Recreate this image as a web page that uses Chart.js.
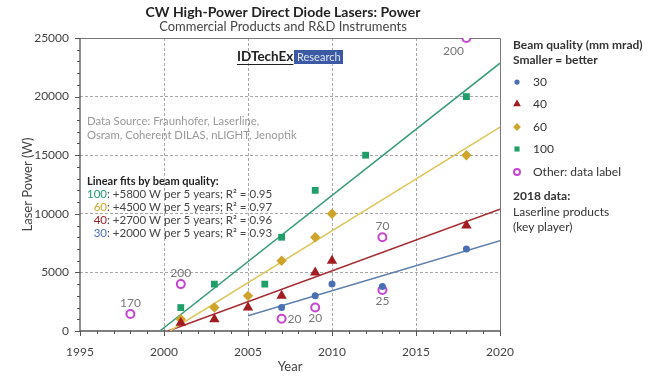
<!DOCTYPE html>
<html><head><meta charset="utf-8">
<script src="https://cdn.jsdelivr.net/npm/chart.js@4.4.1/dist/chart.umd.min.js"></script>
<style>html,body{margin:0;padding:0;background:#fff}#wrap{width:650px;height:376px;position:relative}</style>
</head><body><div id="wrap"><canvas id="c" width="650" height="376"></canvas></div>
<script>
// ---- data ----
const years30 = [2007, 2009, 2010, 2013, 2018];
const power30 = [2000, 3000, 4000, 3800, 7000];
const years40 = [2001, 2003, 2005, 2007, 2009, 2010, 2018];
const power40 = [700, 1000, 2000, 3000, 5000, 6000, 9000];
const years60 = [2001, 2003, 2005, 2007, 2009, 2010, 2018];
const power60 = [1000, 2000, 3000, 6000, 8000, 10000, 15000];
const years100 = [2001, 2003, 2006, 2007, 2009, 2012, 2018];
const power100 = [2000, 4000, 4000, 8000, 12000, 15000, 20000];
const yearsOther = [1998, 2001, 2007, 2009, 2013, 2013, 2018];
const powerOther = [1450, 4000, 1050, 2000, 8000, 3500, 25000];
const labelsOther = ['170', '200', '20', '20', '70', '25', '200'];
// linear fit end points [startYear, startPower, endYear, endPower]
const fit30 = [2005, 1300, 2020, 7700];
const fit40 = [2000.25, 0, 2020, 10400];
const fit60 = [2000.35, 0, 2020, 17400];
const fit100 = [1999.75, 0, 2020, 22850];
const xTicks = [1995, 2000, 2005, 2010, 2015, 2020];
const yTicks = [0, 5000, 10000, 15000, 20000, 25000];
const fitTexts = [
  ['100', ': +5800 W per 5 years; R² = 0.95'],
  ['60', ': +4500 W per 5 years; R² = 0.97'],
  ['40', ': +2700 W per 5 years; R² = 0.96'],
  ['30', ': +2000 W per 5 years; R² = 0.93']
];
// ---- styles ----
const labelPlacement = ['above', 'above', 'right', 'below', 'above', 'below', 'belowleft'];
const C30 = '#4a70b4', C40 = '#a11d22', C60 = '#cfa42b', C100 = '#1f9e6a', COTH = '#c545d0';
const L30 = '#5f80ad', L40 = '#a32a30', L60 = '#dcc65a', L100 = '#3a9c7d';
const FONT = 'Lato, "Open Sans", sans-serif';

function pts(xs, ys) { return xs.map((x, i) => ({x: x, y: ys[i]})); }
function fitPts(f) { return [{x: f[0], y: f[1]}, {x: f[2], y: f[3]}]; }

const scatterDs = [
  {label: '30', data: pts(years30, power30), pointStyle: 'circle', pointRadius: 3.5, backgroundColor: C30, borderColor: C30, borderWidth: 0},
  {label: '40', data: pts(years40, power40), pointStyle: 'triangle', pointRadius: 6, backgroundColor: C40, borderColor: C40, borderWidth: 0},
  {label: '60', data: pts(years60, power60), pointStyle: 'rectRot', pointRadius: 5.2, backgroundColor: C60, borderColor: C60, borderWidth: 0},
  {label: '100', data: pts(years100, power100), pointStyle: 'rect', pointRadius: 4.8, backgroundColor: C100, borderColor: C100, borderWidth: 0},
  {label: 'Other: data label', data: pts(yearsOther, powerOther), pointStyle: 'circle', pointRadius: 4, backgroundColor: '#fff', borderColor: COTH, borderWidth: 2}
];
const lineDs = [
  {label: 'fit100', data: fitPts(fit100), borderColor: L100},
  {label: 'fit60', data: fitPts(fit60), borderColor: L60},
  {label: 'fit40', data: fitPts(fit40), borderColor: L40},
  {label: 'fit30', data: fitPts(fit30), borderColor: L30}
].map(d => Object.assign(d, {type: 'line', showLine: true, pointRadius: 0, borderWidth: 1.5, fill: false, order: 10}));

scatterDs.forEach(d => { d.type = 'scatter'; d.order = 1; d.pointHoverRadius = d.pointRadius; });

const decor = {
  id: 'decor',
  beforeDatasetsDraw(chart) {
    const {ctx, chartArea: a, scales: {x, y}} = chart;
    ctx.save();
    // box top/right
    ctx.strokeStyle = '#777'; ctx.lineWidth = 1;
    ctx.beginPath(); ctx.moveTo(a.left, a.top + 0.5); ctx.lineTo(a.right + 0.5, a.top + 0.5); ctx.lineTo(a.right + 0.5, a.bottom); ctx.stroke();
    // axes
    ctx.strokeStyle = '#555'; ctx.lineWidth = 1.3;
    ctx.beginPath(); ctx.moveTo(a.left, a.top); ctx.lineTo(a.left, a.bottom); ctx.lineTo(a.right, a.bottom); ctx.stroke();
    // ticks
    ctx.lineWidth = 1;
    for (let v = 0; v <= 25000; v += 1000) {
      const py = Math.round(y.getPixelForValue(v)) + 0.5;
      const len = v % 5000 === 0 ? 5 : 3;
      ctx.beginPath(); ctx.moveTo(a.left - len, py); ctx.lineTo(a.left, py); ctx.stroke();
    }
    for (let v = 1995; v <= 2020; v += 1) {
      const px = Math.round(x.getPixelForValue(v)) + 0.5;
      const len = v % 5 === 0 ? 5 : 3;
      ctx.beginPath(); ctx.moveTo(px, a.bottom); ctx.lineTo(px, a.bottom + len); ctx.stroke();
    }
    ctx.restore();
  },
  afterDraw(chart) {
    const {ctx, chartArea: a, scales: {x, y}} = chart;
    ctx.save();
    ctx.textBaseline = 'middle';
    // titles
    ctx.textAlign = 'center'; ctx.fillStyle = '#222';
    ctx.font = 'bold 14px ' + FONT; ctx.fillText('CW High-Power Direct Diode Lasers: Power', 283, 12);
    ctx.fillStyle = '#444';
    ctx.font = '13px ' + FONT; ctx.fillText('Commercial Products and R&D Instruments', 283, 26.5);
    // axis titles
    ctx.font = '13px ' + FONT; ctx.fillStyle = '#444';
    ctx.fillText('Year', (a.left + a.right) / 2, 367);
    ctx.save(); ctx.translate(28, (a.top + a.bottom) / 2); ctx.rotate(-Math.PI / 2);
    ctx.fillText('Laser Power (W)', 0, 0); ctx.restore();
    // logo
    ctx.textAlign = 'left'; ctx.fillStyle = '#222'; ctx.font = 'bold 13.5px ' + FONT;
    ctx.fillText('IDTechEx', 237, 57);
    const w = ctx.measureText('IDTechEx').width;
    ctx.fillRect(237, 64, w, 1);
    ctx.fillStyle = '#3b5aa3'; ctx.fillRect(294, 50, 49, 14);
    ctx.fillStyle = '#dfe6f5'; ctx.font = '11px ' + FONT; ctx.fillText('Research', 297, 57.5);
    // data source
    ctx.fillStyle = '#9a9a9a'; ctx.font = '11.3px ' + FONT;
    ctx.fillText('Data Source: Fraunhofer, Laserline,', 87, 121);
    ctx.fillText('Osram, Coherent DILAS, nLIGHT, Jenoptik', 87, 135);
    // fits block
    ctx.fillStyle = '#222'; ctx.font = 'bold 11px ' + FONT;
    ctx.fillText('Linear fits by beam quality:', 87, 181);
    const fc = [C100, C60, C40, C30];
    ctx.font = '11.5px ' + FONT;
    const numW = ctx.measureText('100').width;
    fitTexts.forEach((t, i) => {
      const yy = 194 + i * 13.2;
      ctx.textAlign = 'right'; ctx.fillStyle = fc[i]; ctx.fillText(t[0], 87 + numW, yy);
      ctx.textAlign = 'left'; ctx.fillStyle = '#444'; ctx.fillText(t[1], 87 + numW, yy);
    });
    // other labels
    ctx.fillStyle = '#777'; ctx.font = '12px ' + FONT;
    yearsOther.forEach((yr, i) => {
      const px = x.getPixelForValue(yr), py = y.getPixelForValue(powerOther[i]);
      const p = labelPlacement[i];
      if (p === 'above') { ctx.textAlign = 'center'; ctx.fillText(labelsOther[i], px, py - 11); }
      else if (p === 'below') { ctx.textAlign = 'center'; ctx.fillText(labelsOther[i], px, py + 11); }
      else if (p === 'right') { ctx.textAlign = 'left'; ctx.fillText(labelsOther[i], px + 6, py); }
      else { ctx.textAlign = 'center'; ctx.fillText(labelsOther[i], px - 13, py + 13); }
    });
    // legend
    ctx.textAlign = 'left'; ctx.fillStyle = '#333';
    ctx.font = 'bold 12px ' + FONT;
    ctx.fillText('Beam quality (mm mrad)', 513, 45);
    ctx.fillText('Smaller = better', 513, 60);
    const ly = [82, 104, 127, 149, 172];
    chart.data.datasets.filter(d => d.type === 'scatter').forEach((d, i) => {
      ctx.save();
      ctx.fillStyle = d.backgroundColor; ctx.strokeStyle = d.borderColor; ctx.lineWidth = d.borderWidth;
      Chart.helpers.drawPoint(ctx, {pointStyle: d.pointStyle, radius: d.pointRadius * 0.75, borderWidth: d.borderWidth, rotation: 0}, 517, ly[i]);
      ctx.restore();
      ctx.fillStyle = '#333'; ctx.font = '12px ' + FONT;
      ctx.fillText(d.label, 533, ly[i]);
    });
    ctx.font = 'bold 12px ' + FONT; ctx.fillText('2018 data:', 513, 196);
    ctx.font = '12px ' + FONT;
    ctx.fillText('Laserline products', 513, 212);
    ctx.fillText('(key player)', 513, 227);
    ctx.restore();
  }
};

const gridColor = edge => c => (c.tick && edge.includes(c.tick.value)) ? 'rgba(0,0,0,0)' : '#a8a8a8';

new Chart(document.getElementById('c'), {
  type: 'scatter',
  data: {datasets: [...scatterDs, ...lineDs]},
  options: {
    responsive: false, animation: false,
    layout: {padding: {top: 38, right: 150, left: 0, bottom: 0}},
    plugins: {legend: {display: false}, title: {display: false}, tooltip: {enabled: false}},
    scales: {
      x: {
        type: 'linear', min: 1995, max: 2020,
        afterFit: s => { s.height = 45; },
        afterBuildTicks: s => { s.ticks = xTicks.map(v => ({value: v})); },
        ticks: {callback: v => String(v), color: '#444', font: {family: FONT, size: 12}, padding: 14, maxRotation: 0},
        grid: {drawTicks: false, color: gridColor([1995, 2020]), lineWidth: 1, borderDash: [3, 2]},
        border: {display: false, dash: [3, 2]}
      },
      y: {
        type: 'linear', min: 0, max: 25000,
        afterFit: s => { s.width = 80; },
        afterBuildTicks: s => { s.ticks = yTicks.map(v => ({value: v})); },
        ticks: {callback: v => String(v), color: '#444', font: {family: FONT, size: 12}, padding: 11},
        grid: {drawTicks: false, color: gridColor([0, 25000]), lineWidth: 1, borderDash: [3, 2]},
        border: {display: false, dash: [3, 2]}
      }
    }
  },
  plugins: [decor]
});
</script></body></html>
